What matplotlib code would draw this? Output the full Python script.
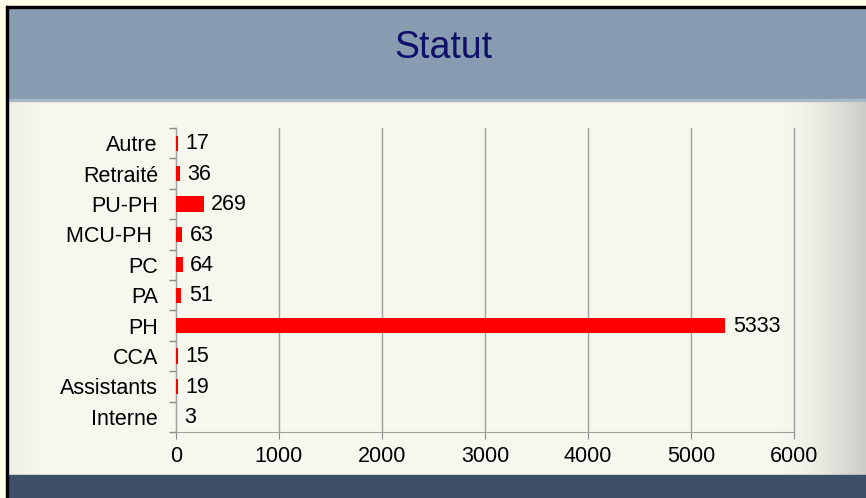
import numpy as np
import matplotlib.pyplot as plt
from matplotlib.patches import Rectangle

categories = ['Interne', 'Assistants', 'CCA', 'PH', 'PA', 'PC', 'MCU-PH ', 'PU-PH', 'Retraité', 'Autre']
counts = [3, 19, 15, 5333, 51, 64, 63, 269, 36, 17]
x_ticks = [0, 1000, 2000, 3000, 4000, 5000, 6000]

W, H = 866, 498
plt.rcParams['font.family'] = ['Liberation Sans', 'DejaVu Sans']

fig = plt.figure(figsize=(W / 100, H / 100), dpi=100)
fig.patch.set_facecolor('#ffffe8')

# background: slide-like frame drawn in pixel coordinates
bg = fig.add_axes([0, 0, 1, 1])
bg.set_xlim(0, W)
bg.set_ylim(H, 0)
bg.axis('off')

# body with a soft horizontal gradient (darker towards the right edge)
xs = np.linspace(0, 1, 400)
shade = np.where(xs > 0.9, (xs - 0.9) / 0.1, 0.0) ** 1.6 * 0.17
shade += np.where(xs < 0.04, (0.04 - xs) / 0.04, 0.0) * 0.03
base = np.array([0.969, 0.969, 0.937])
grad = base[None, :] - shade[:, None] * np.array([1.0, 1.0, 0.9])[None, :]
bg.imshow(grad[None, :, :], extent=[8, W, 475, 100], aspect='auto', zorder=1)

bg.add_patch(Rectangle((8, 8), W - 8, 92, color='#879cb0', zorder=2))
bg.add_patch(Rectangle((8, 99), W - 8, 2, color='#a9b8c6', zorder=2))
bg.add_patch(Rectangle((8, 475), W - 8, H - 475, color='#3e5068', zorder=2))
bg.add_patch(Rectangle((6, 6), W - 6, 2, color='black', zorder=3))
bg.add_patch(Rectangle((6, 6), 2, H - 6, color='black', zorder=3))

bg.text(443, 48, 'Statut', fontsize=27, color='#10106a', ha='center', va='center', zorder=4)

# bar chart
fs = 15.5
ax = fig.add_axes([176 / W, 1 - 432 / H, (794 - 176) / W, (432 - 128) / H])
ax.set_facecolor('none')
y = np.arange(len(categories))
ax.barh(y, counts, height=0.5, color='#ff0000', zorder=3)
for yi, v in zip(y, counts):
    ax.annotate(str(v), (v, yi), xytext=(5.5, -0.5), textcoords='offset points',
                va='center', ha='left', fontsize=fs, color='black')

ax.set_xlim(0, 6000)
ax.set_ylim(-0.5, len(categories) - 0.5)
ax.set_xticks(x_ticks)
ax.set_yticks(y)
ax.set_yticklabels(categories)
ax.set_yticks(np.arange(-0.5, len(categories)), minor=True)
ax.tick_params(axis='y', which='major', length=0, pad=13, labelsize=fs)
ax.tick_params(axis='y', which='minor', length=5, color='#8c8c8c', width=1)
ax.tick_params(axis='x', length=5, color='#8c8c8c', labelsize=fs, pad=5)
ax.grid(axis='x', color='#a0a0a0', linewidth=1, zorder=0)
for gl in ax.get_xgridlines():
    gl.set_clip_on(False)
for s in ['top', 'right']:
    ax.spines[s].set_visible(False)
for s in ['left', 'bottom']:
    ax.spines[s].set_color('#a0a0a0')

fig.savefig('out.png', dpi=100, facecolor=fig.get_facecolor())
